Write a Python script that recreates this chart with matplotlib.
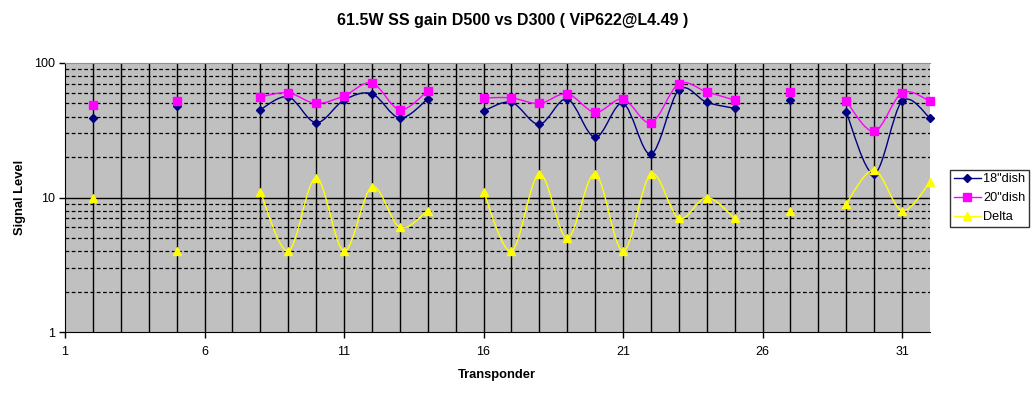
import matplotlib
matplotlib.use("Agg")
import matplotlib.pyplot as plt
import numpy as np
from matplotlib.path import Path
from matplotlib.patches import PathPatch
from matplotlib.ticker import FixedLocator, NullFormatter

plt.rcParams['font.family'] = ['Liberation Sans', 'DejaVu Sans']

nan = np.nan
# transponder numbers and signal levels (gaps = no reading)
transponder = np.arange(1, 33)
dish18 = [nan, 39, nan, nan, 48, nan, nan, 45, 56, 36, 53, 59, 39, 54, nan, 44,
          51, 35, 54, 28, 50, 21, 63, 51, 46, nan, 53, nan, 43, 15, 52, 39]
dish20 = [nan, 49, nan, nan, 52, nan, nan, 56, 60, 50, 57, 71, 45, 62, nan, 55,
          55, 50, 59, 43, 54, 36, 70, 61, 53, nan, 61, nan, 52, 31, 60, 52]
delta = [nan, 10, nan, nan, 4, nan, nan, 11, 4, 14, 4, 12, 6, 8, nan, 11,
         4, 15, 5, 15, 4, 15, 7, 10, 7, nan, 8, nan, 9, 16, 8, 13]

series_names = ['18"dish', '20"dish', 'Delta']
x_ticks = [1, 6, 11, 16, 21, 26, 31]
y_ticks = [1, 10, 100]


def smooth_segments(ax, xs, ys, color):
    # Excel-like smoothed line: bezier through each run of consecutive points,
    # control points worked out in (x, log y) so it looks right on the log axis
    xs = np.asarray(xs, float)
    ys = np.asarray(ys, float)
    ok = ~np.isnan(ys)
    runs = []
    cur = []
    for i in range(len(xs)):
        if ok[i]:
            cur.append(i)
        else:
            if cur:
                runs.append(cur)
            cur = []
    if cur:
        runs.append(cur)
    for run in runs:
        if len(run) < 2:
            continue
        p = np.column_stack([xs[run], np.log10(ys[run])])
        n = len(p)
        verts = [p[0]]
        codes = [Path.MOVETO]
        for i in range(n - 1):
            p0 = p[max(i - 1, 0)]
            p1 = p[i]
            p2 = p[i + 1]
            p3 = p[min(i + 2, n - 1)]
            c1 = p1 + (p2 - p0) / 6.0
            c2 = p2 - (p3 - p1) / 6.0
            verts += [c1, c2, p2]
            codes += [Path.CURVE4] * 3
        verts = np.array(verts)
        verts[:, 1] = 10 ** verts[:, 1]
        ax.add_patch(PathPatch(Path(verts, codes), fill=False, edgecolor=color,
                               lw=1.0, transform=ax.transData, zorder=3,
                               clip_on=False))


fig = plt.figure(figsize=(10.35, 3.93), dpi=100)
ax = fig.add_axes([0.0628, 0.1552, 0.8357, 0.6845])
ax.set_facecolor('#C0C0C0')

ax.set_yscale('log')
ax.set_xlim(1, 32)
ax.set_ylim(1, 100)

# grid: black verticals at every transponder, dashed minor horizontals
for xv in range(2, 32):
    ax.axvline(xv, color='black', lw=1.0, zorder=1)
ax.yaxis.set_minor_locator(FixedLocator([2, 3, 4, 5, 6, 7, 8, 9, 20, 30, 40, 50, 60, 70, 80, 90]))
ax.yaxis.set_minor_formatter(NullFormatter())
ax.grid(True, which='minor', axis='y', color='black', lw=0.9, ls=(0, (3, 2)), zorder=1)
ax.axhline(10, color='black', lw=1.0, zorder=1)

colors = ['#000080', '#FF00FF', '#FFFF00']
markers = ['D', 's', '^']
sizes = [4.5, 5.5, 5.5]
handles = []
for vals, col, mk, ms, name in zip([dish18, dish20, delta], colors, markers, sizes, series_names):
    smooth_segments(ax, transponder, vals, col)
    ax.plot(transponder, vals, ls='none', marker=mk, ms=ms, color=col,
            mec=col, zorder=4, clip_on=False)
    handles.append(plt.Line2D([], [], color=col, lw=1.0, marker=mk, ms=ms, mec=col, label=name))

ax.set_xticks(x_ticks)
ax.set_xticklabels([str(t) for t in x_ticks])
ax.set_yticks(y_ticks)
ax.set_yticklabels([str(t) for t in y_ticks])
ax.tick_params(axis='both', which='major', direction='out', length=4, width=1,
               labelsize=9, colors='black', pad=3)
ax.tick_params(axis='x', pad=6)
ax.tick_params(axis='y', which='minor', length=0)

for side in ['left', 'bottom']:
    ax.spines[side].set_color('black')
ax.spines['top'].set_color('#909090')
ax.spines['right'].set_visible(False)

fig.text(0.495, 0.949, '61.5W SS gain D500 vs D300 ( ViP622@L4.49 )',
         ha='center', va='center', fontsize=11.5, fontweight='bold')
fig.text(0.48, 0.046, 'Transponder', ha='center', va='center', fontsize=9.3, fontweight='bold')
fig.text(0.019, 0.497, 'Signal Level', ha='center', va='center', rotation=90,
         fontsize=9.3, fontweight='bold')

leg = fig.legend(handles=handles, loc='center left', bbox_to_anchor=(0.918, 0.495),
                 fontsize=9.2, frameon=True, fancybox=False, edgecolor='black',
                 borderpad=0.3, handlelength=2.1, labelspacing=0.55, handletextpad=0.2,
                 borderaxespad=0)
leg.get_frame().set_linewidth(1.0)

fig.savefig('out.png', dpi=100, facecolor='white')
